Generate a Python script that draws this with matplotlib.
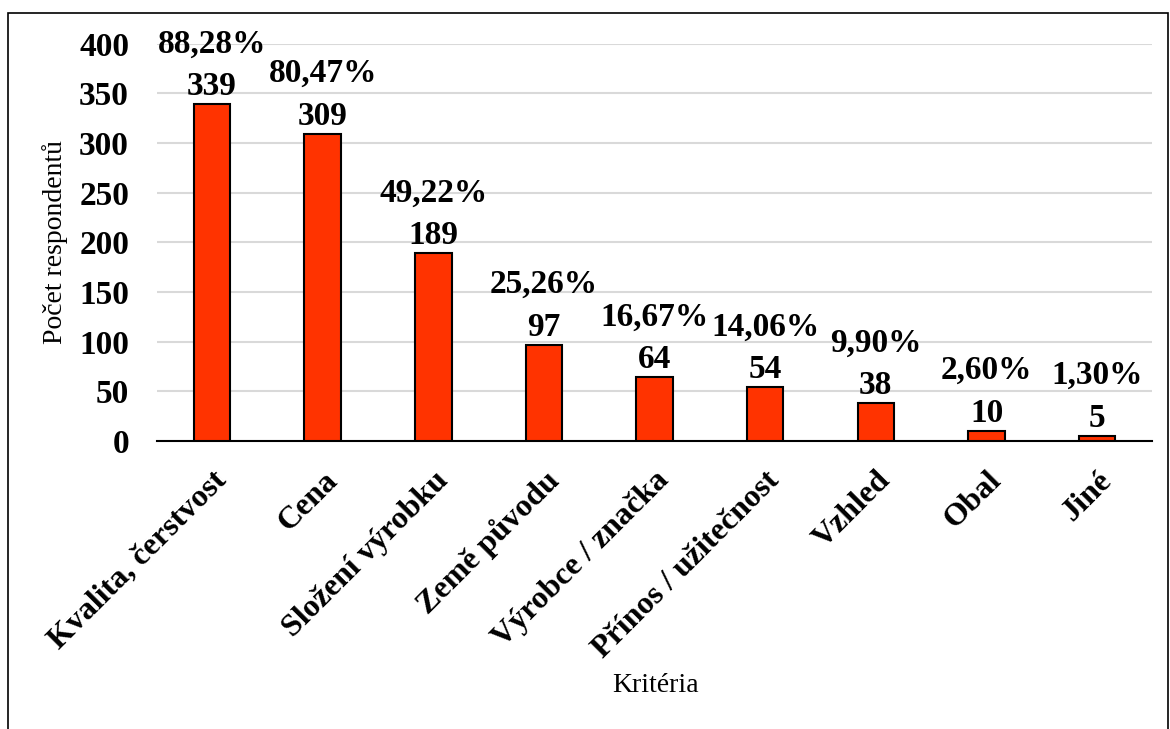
import numpy as np
import matplotlib.pyplot as plt
from matplotlib.patches import Rectangle

kriteria = ["Kvalita, čerstvost", "Cena", "Složení výrobku", "Země původu",
            "Výrobce / značka", "Přínos / užitečnost", "Vzhled", "Obal", "Jiné"]
pocty = [339, 309, 189, 97, 64, 54, 38, 10, 5]
procenta = ["88,28%", "80,47%", "49,22%", "25,26%", "16,67%", "14,06%", "9,90%", "2,60%", "1,30%"]

plt.rcParams["font.family"] = ["Liberation Serif", "DejaVu Serif"]

fig = plt.figure(figsize=(11.7, 7.29), dpi=100)
ax = fig.add_axes([0.134, 0.395, 0.851, 0.545])

x = np.arange(len(kriteria))
ax.bar(x, pocty, width=0.33, color="#FF3300", edgecolor="black", linewidth=1.5, zorder=3)

# two-line labels: share and count
for xi, n, p in zip(x, pocty, procenta):
    ax.text(xi, n + 2, f"{p}\n{n}", ha="center", va="bottom", fontsize=24,
            fontweight="bold", linespacing=1.5)

ax.set_xlim(-0.5, len(kriteria) - 0.5)
ax.set_ylim(0, 400)
ax.set_yticks(range(0, 401, 50))
ax.yaxis.grid(True, color="#d9d9d9", linewidth=1.5, zorder=0)
ax.set_axisbelow(True)
for s in ["top", "right", "left"]:
    ax.spines[s].set_visible(False)
ax.spines["bottom"].set_linewidth(1.5)
ax.tick_params(axis="both", length=0, labelsize=24)
ax.tick_params(axis="y", pad=20)
for lab in ax.get_yticklabels():
    lab.set_fontweight("bold")

ax.set_xticks(x)
ax.set_xticklabels(kriteria, rotation=45, ha="right", rotation_mode="anchor",
                   fontsize=23, fontweight="bold")
ax.tick_params(axis="x", pad=18)

ax.set_ylabel("Počet respondentů", fontsize=20, labelpad=8)
fig.text(0.56, 0.06, "Kritéria", ha="center", va="center", fontsize=20)

fig.patches.append(Rectangle((8 / 1170, -0.01), 1160 / 1170, 1 - 13 / 729 + 0.01,
                             transform=fig.transFigure, fill=False,
                             edgecolor="black", linewidth=1.2))

plt.savefig("out.png", dpi=100)
